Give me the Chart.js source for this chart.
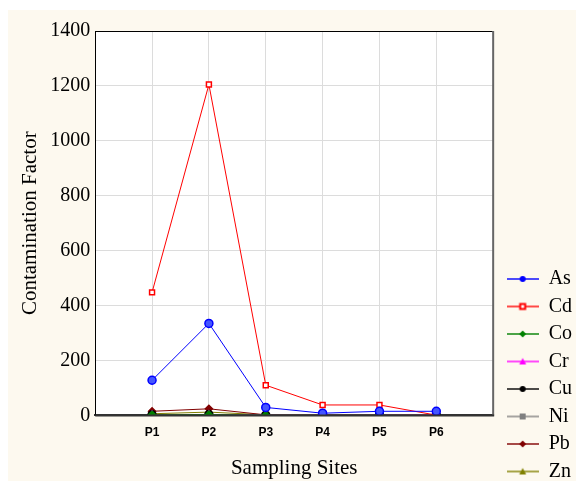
<!DOCTYPE html>
<html>
<head>
<meta charset="utf-8">
<script src="https://cdn.jsdelivr.net/npm/chart.js@4"></script>
<style>
  html, body { margin: 0; padding: 0; background: #fff; }
  #wrap { width: 576px; height: 481px; }
</style>
</head>
<body>
<div id="wrap"><canvas id="myChart" width="576" height="481"></canvas></div>
<script>
const sites = ['P1', 'P2', 'P3', 'P4', 'P5', 'P6'];
const yTicks = [0, 200, 400, 600, 800, 1000, 1200, 1400];

const As = [128, 335, 29, 8, 15, 15];
const Cd = [448, 1205, 110, 38, 38, 1];
const Co = [2, 3, 1, 1, 1, 1];
const Cr = [2, 3, 1, 1, 1, 2];
const Cu = [2, 3, 1, 1, 1, 1];
const Ni = [2, 3, 1, 1, 1, 1];
const Pb = [15, 24, 2, 1, 2, 1];
const Zn = [6, 12, 2, 2, 3, 3];

const series = [
    { label: 'As', data: As, color: '#0000ff', marker: 'circle', fill: '#4455ff' },
    { label: 'Cd', data: Cd, color: '#ff0000', marker: 'rect', fill: '#ffffff' },
    { label: 'Co', data: Co, color: '#008000', marker: 'rectRot', fill: '#008000' },
    { label: 'Cr', data: Cr, color: '#ff00ff', marker: 'triangle', fill: '#ff00ff' },
    { label: 'Cu', data: Cu, color: '#000000', marker: 'circle', fill: '#000000' },
    { label: 'Ni', data: Ni, color: '#808080', marker: 'rect', fill: '#808080' },
    { label: 'Pb', data: Pb, color: '#800000', marker: 'rectRot', fill: '#800000' },
    { label: 'Zn', data: Zn, color: '#808000', marker: 'triangle', fill: '#808000' }
];

// padded category axis so P1..P6 sit at 1..6 of 0..7
const labels = [''].concat(sites, ['']);

function legendIcon(s) {
    const c = document.createElement('canvas');
    c.width = 32; c.height = 10;
    const g = c.getContext('2d');
    g.strokeStyle = s.color;
    g.globalAlpha = 0.7;
    g.lineWidth = 2;
    g.beginPath(); g.moveTo(0, 5); g.lineTo(32, 5); g.stroke();
    g.globalAlpha = 1;
    g.fillStyle = s.color;
    g.strokeStyle = s.color;
    g.lineWidth = 1.5;
    g.beginPath();
    if (s.marker === 'circle') {
        g.arc(16, 5, 3, 0, Math.PI * 2);
        g.fill();
    } else if (s.marker === 'rect') {
        if (s.fill === '#ffffff') {
            g.fillRect(12.5, 1.5, 7, 7);
            g.fillStyle = '#fff';
            g.fillRect(14.5, 3.5, 3, 3);
        } else {
            g.fillRect(13, 2, 6, 6);
        }
    } else if (s.marker === 'rectRot') {
        g.moveTo(16, 1.5); g.lineTo(19.5, 5); g.lineTo(16, 8.5); g.lineTo(12.5, 5);
        g.closePath(); g.fill();
    } else {
        g.moveTo(16, 1.5); g.lineTo(19.5, 8); g.lineTo(12.5, 8);
        g.closePath(); g.fill();
    }
    return c;
}

const framePlugin = {
    id: 'frame',
    afterLayout(chart) {
        // nudge the legend block to where the reference puts it
        const lg = chart.legend;
        lg.left += 6; lg.right += 6;
        lg.top += 8; lg.bottom += 8;
    },
    beforeDraw(chart) {
        const ctx = chart.ctx;
        const a = chart.chartArea;
        ctx.save();
        ctx.fillStyle = '#ffffff';
        ctx.fillRect(0, 0, chart.width, chart.height);
        ctx.fillStyle = '#fdf9ef';
        ctx.fillRect(8, 10, chart.width - 8, chart.height - 10);
        ctx.fillStyle = '#ffffff';
        ctx.fillRect(a.left, a.top, a.right - a.left, a.bottom - a.top);
        ctx.restore();
    },
    afterDatasetsDraw(chart) {
        const ctx = chart.ctx;
        const a = chart.chartArea;
        ctx.save();
        ctx.strokeStyle = '#000';
        ctx.lineWidth = 1;
        ctx.beginPath();
        ctx.moveTo(a.left, a.top + 0.5);
        ctx.lineTo(a.right, a.top + 0.5);
        ctx.stroke();
        ctx.strokeStyle = '#666';
        ctx.lineWidth = 2;
        ctx.beginPath();
        ctx.moveTo(a.right, a.top);
        ctx.lineTo(a.right, a.bottom);
        ctx.stroke();
        ctx.strokeStyle = '#333';
        ctx.beginPath();
        ctx.moveTo(a.left, a.bottom);
        ctx.lineTo(a.right + 1, a.bottom);
        ctx.stroke();
        ctx.restore();
    }
};

new Chart(document.getElementById('myChart'), {
    type: 'line',
    data: {
        labels: labels,
        datasets: series.map(s => ({
            label: s.label,
            data: [null].concat(s.data, [null]),
            borderColor: s.color,
            backgroundColor: s.fill,
            borderWidth: 1,
            pointStyle: s.marker,
            pointRadius: s.marker === 'circle' ? 4 : 3.5,
            pointBorderWidth: 1.5,
            pointBorderColor: s.color,
            pointBackgroundColor: s.fill,
            tension: 0
        }))
    },
    options: {
        responsive: false,
        animation: false,
        layout: { padding: { top: 31, left: 18, bottom: 0, right: 0 } },
        plugins: {
            tooltip: { enabled: false },
            legend: {
                position: 'right',
                align: 'end',
                labels: {
                    usePointStyle: true,
                    pointStyleWidth: 32,
                    boxHeight: 10,
                    padding: 7.5,
                    color: '#000',
                    font: { family: 'Liberation Serif', size: 20 },
                    generateLabels: chart => series.map((s, i) => ({
                        text: s.label,
                        pointStyle: legendIcon(s),
                        datasetIndex: i,
                        fontColor: '#000',
                        lineWidth: 0
                    }))
                }
            }
        },
        scales: {
            x: {
                offset: false,
                grid: { color: '#dcdcdc', drawTicks: false },
                border: { color: '#333', width: 2 },
                ticks: {
                    padding: 10,
                    color: '#000',
                    maxRotation: 0,
                    autoSkip: false,
                    font: { family: 'Liberation Sans', size: 12, weight: 'bold' }
                },
                title: {
                    display: true,
                    text: 'Sampling Sites',
                    color: '#000',
                    font: { family: 'Liberation Serif', size: 21 },
                    padding: { top: 6, bottom: 0 }
                }
            },
            y: {
                min: 0,
                max: 1400,
                afterBuildTicks: axis => { axis.ticks = yTicks.map(v => ({ value: v })); },
                grid: { color: '#dcdcdc', drawTicks: false },
                border: { color: '#000', width: 1 },
                ticks: {
                    padding: 5,
                    color: '#000',
                    font: { family: 'Liberation Serif', size: 20 },
                    callback: v => String(v)
                },
                title: {
                    display: true,
                    text: 'Contamination Factor',
                    color: '#000',
                    font: { family: 'Liberation Serif', size: 21 },
                    padding: { top: 0, bottom: 2 }
                }
            }
        }
    },
    plugins: [framePlugin]
});
</script>
</body>
</html>
